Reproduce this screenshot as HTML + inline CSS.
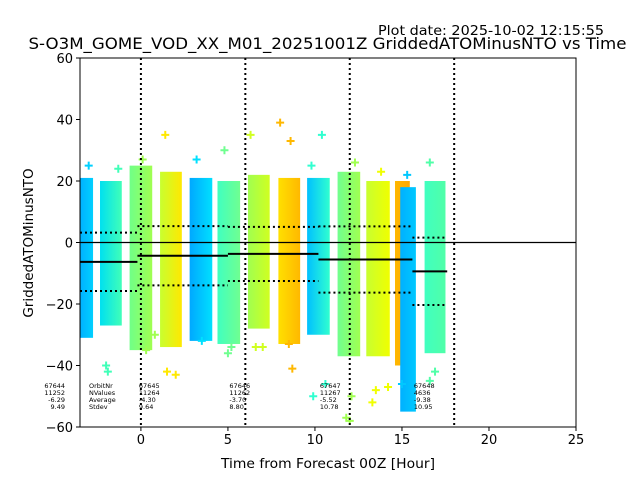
<!DOCTYPE html>
<html><head><meta charset="utf-8">
<style>
html,body{margin:0;padding:0;background:#fff;}
svg{display:block;font-family:"DejaVu Sans","Liberation Sans",sans-serif;}
</style></head>
<body>
<svg id="chart" width="640" height="480" viewBox="0 0 640 480">
<defs id="defs"></defs>
<g id="marks"></g>
<text x="378" y="35" font-size="13" textLength="226" lengthAdjust="spacingAndGlyphs">Plot date: 2025-10-02 12:15:55</text>
<text x="327.5" y="49" font-size="16" textLength="598" lengthAdjust="spacingAndGlyphs" text-anchor="middle">S-O3M_GOME_VOD_XX_M01_20251001Z GriddedATOMinusNTO vs Time</text>
<text x="328" y="468" font-size="13.5" textLength="214" lengthAdjust="spacingAndGlyphs" text-anchor="middle">Time from Forecast 00Z [Hour]</text>
<text transform="translate(33,243) rotate(-90)" font-size="13.5" text-anchor="middle">GriddedATOMinusNTO</text>
</svg>
<script>
// ---- data ----
const xTicks = [0,5,10,15,20,25];
const yTicks = [-60,-40,-20,0,20,40,60];
const vLines = [0,6,12,18];
const bandStart = [-3.5,-2.35,-0.65,1.1,2.8,4.4,6.15,7.9,9.55,11.3,12.95,14.6,14.9,16.3];
const bandEnd   = [-2.75,-1.1,0.65,2.35,4.1,5.7,7.4,9.15,10.85,12.6,14.3,15.45,15.8,17.5];
const bandTop   = [21,20,25,23,21,20,22,21,21,23,20,20,18,20];
const bandBot   = [-31,-27,-35,-34,-32,-33,-28,-33,-30,-37,-37,-40,-55,-36];
const colA = ["#00b0ff","#00e0f0","#70ff88","#c8ff30","#00a8ff","#40ffc0","#a0ff50","#ffe000","#00c0ff","#70ff90","#c8ff30","#ffb800","#00b0ff","#40ffc0"];
const colB = ["#00d0ff","#40ffb8","#a0ff50","#ffe800","#00e0ff","#70ff90","#d0ff20","#ffb800","#30ffd0","#a0ff50","#f0ff00","#ffa800","#00c8ff","#50ffa8"];
const outX = [-3.0,-1.9,-1.3,0.1,0.3,1.4,1.5,2.0,3.2,3.5,4.8,5.0,6.3,6.6,7.0,8.0,8.6,8.7,8.5,9.8,10.4,10.6,11.8,12.3,12.0,13.3,13.8,14.2,15.3,15.0,16.6,16.9,-2.0,0.8,5.2,9.9,12.1,13.5,16.6];
const outY = [25,-42,24,27,-35,35,-42,-43,27,-32,30,-36,35,-34,-34,39,33,-41,-33,25,35,-46,-57,26,-58,-52,23,-47,22,-46,26,-42,-40,-30,-34,-50,-50,-48,-45];
const outC = [0,1,1,2,2,3,3,3,4,4,5,5,6,6,6,7,7,7,7,8,8,8,9,9,9,10,10,10,12,12,13,13,1,2,5,8,9,10,13];
const segStart = [-3.5,-0.2,5.0,10.2,15.6];
const segEnd   = [-0.2,5.0,10.2,15.6,17.6];
const segMean  = [-6.29,-4.30,-3.70,-5.52,-9.38];
const segStd   = [9.49,9.64,8.80,10.78,10.95];
const orbitNr  = ["67644","67645","67646","67647","67648"];
const nValues  = ["11252","11264","11262","11267","4636"];
// ---- axes ----
const X0=80,X1=576,Y0=58,Y1=427, xMin=-3.5,xMax=25, yMin=-60,yMax=60;
const sx=v=>X0+(v-xMin)/(xMax-xMin)*(X1-X0);
const sy=v=>Y1-(v-yMin)/(yMax-yMin)*(Y1-Y0);
const NS="http://www.w3.org/2000/svg";
const svg=document.getElementById('chart'), g=document.getElementById('marks'), defs=document.getElementById('defs');
function mk(t,a,p){const e=document.createElementNS(NS,t);for(const k in a)e.setAttribute(k,a[k]);(p||g).appendChild(e);return e;}
mk('rect',{x:X0,y:Y0,width:X1-X0,height:Y1-Y0,fill:'#fff'});
bandStart.forEach((s,i)=>{
  const lg=mk('linearGradient',{id:'gr'+i,x1:0,x2:1,y1:0,y2:0},defs);
  mk('stop',{offset:0,'stop-color':colA[i]},lg);mk('stop',{offset:1,'stop-color':colB[i]},lg);
  const r=mk('rect',{x:sx(s),y:sy(bandTop[i]),width:sx(bandEnd[i])-sx(s),height:sy(bandBot[i])-sy(bandTop[i]),fill:'url(#gr'+i+')'});
  
  
});
outX.forEach((x,i)=>{
  const p=mk('path',{d:`M${sx(x)-4},${sy(outY[i])}h8M${sx(x)},${sy(outY[i])-4}v8`,stroke:colB[outC[i]],'stroke-width':2});
  
  
});
mk('line',{x1:X0,x2:X1,y1:sy(0),y2:sy(0),stroke:'#000','stroke-width':1.2});
vLines.forEach(v=>{const l=mk('line',{x1:sx(v),x2:sx(v),y1:Y0,y2:Y1,stroke:'#000','stroke-width':2,'stroke-dasharray':'2,3'});
  
  });
segStart.forEach((s,i)=>{
  const m=mk('line',{x1:sx(s),x2:sx(segEnd[i]),y1:sy(segMean[i]),y2:sy(segMean[i]),stroke:'#000','stroke-width':2});
  
  
  [1,-1].forEach(k=>{const d=mk('line',{x1:sx(s),x2:sx(segEnd[i]),y1:sy(segMean[i]+k*segStd[i]),y2:sy(segMean[i]+k*segStd[i]),stroke:'#000','stroke-width':2,'stroke-dasharray':'2,3'});
    
    });
  const rows=[orbitNr[i],nValues[i],segMean[i].toFixed(2),segStd[i].toFixed(2)];
  const tx=i==0?65:sx(s)+1.5;
  rows.forEach((t,j)=>{const e=mk('text',{x:tx,y:388+j*7,'font-size':6.5,'text-anchor':i==0?'end':'start'});e.textContent=t;
    
    });
});
["OrbitNr","NValues","Average","Stdev"].forEach((t,j)=>{const e=mk('text',{x:89,y:388+j*7,'font-size':6.5});e.textContent=t;
  
  });
mk('rect',{x:X0,y:Y0,width:X1-X0,height:Y1-Y0,fill:'none',stroke:'#000','stroke-width':1});
xTicks.forEach(v=>{mk('line',{x1:sx(v),x2:sx(v),y1:Y1,y2:Y1+4,stroke:'#000'});
  const t=mk('text',{x:sx(v),y:Y1+17,'font-size':13,'text-anchor':'middle'});t.textContent=v;
  
  });
yTicks.forEach(v=>{mk('line',{x1:X0-4,x2:X0,y1:sy(v),y2:sy(v),stroke:'#000'});
  const t=mk('text',{x:X0-7,y:sy(v)+5,'font-size':13,'text-anchor':'end'});t.textContent=v<0?'\u2212'+(-v):v;
  
  });
</script>
</body></html>
